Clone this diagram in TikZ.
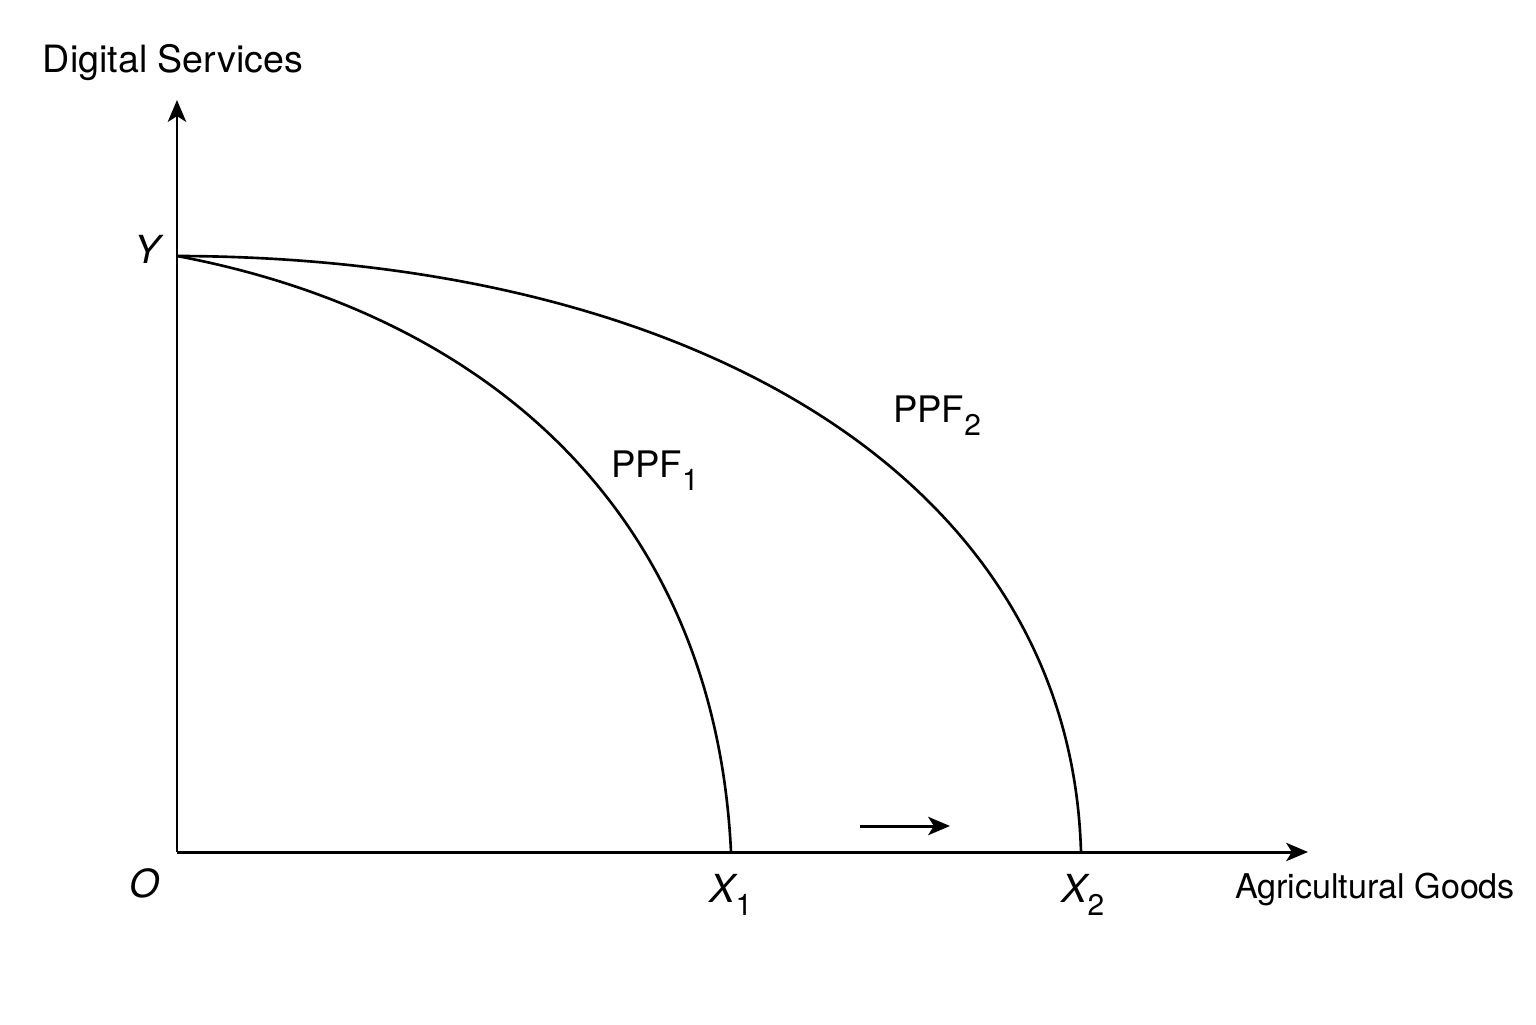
\documentclass[tikz,border=0pt]{standalone}
\usepackage{fontspec}
\setmainfont{TeX Gyre Heros}
\usetikzlibrary{arrows.meta}

\newcommand{\lowsub}[1]{\raisebox{-3.8pt}{\fontsize{8.5}{9}\selectfont #1}}

\begin{document}
\begin{tikzpicture}[
        axis/.style={draw, line width=0.85pt, -{Stealth[length=6.2pt, width=5.2pt, inset=1.6pt]}},
        curve/.style={draw, line width=0.75pt},
        shift arrow/.style={draw, line width=0.85pt, -{Stealth[length=6.2pt, width=5.2pt, inset=1.6pt]}},
        axis_title/.style={anchor=base, font=\fontsize{10.7}{12}\selectfont},
        point_lbl/.style={anchor=base, font=\fontsize{11}{13}\selectfont\itshape},
        ppf_lbl/.style={anchor=base, font=\fontsize{10.4}{12}\selectfont}
    ]
	\useasboundingbox (0,0) rectangle (15.36,10.24);
	\coordinate (o) at (1.77,1.72);
	\coordinate (y_top) at (1.77,9.24);
	\coordinate (x_end) at (13.08,1.72);
	\coordinate (y_0) at (1.77,7.68);
	\coordinate (x_1) at (7.31,1.72);
	\coordinate (x_2) at (10.81,1.72);
	\coordinate (shift_a) at (8.60,1.98);
	\coordinate (shift_b) at (9.50,1.98);
	\draw[axis] (o) -- (y_top);
	\draw[axis] (o) -- (x_end);
	\draw[curve] (y_0) .. controls (4.90,7.09) and (7.15,5.09) .. (x_1);
	\draw[curve] (y_0) .. controls (6.80,7.67) and (10.70,5.54) .. (x_2);
	\draw[shift arrow] (shift_a) -- (shift_b);
	\node[axis_title] (t_y) at (1.73,9.51) {Digital Services};
	\node[axis_title, font=\fontsize{9.7}{11}\selectfont] (t_x) at (13.75,1.26) {Agricultural Goods};
	\node[point_lbl] (l_y) at (1.47,7.61) {Y};
	\node[point_lbl] (l_o) at (1.45,1.27) {O};
	\node[point_lbl] (l_x1) at (7.31,1.22) {X\upshape\lowsub{1}};
	\node[point_lbl] (l_x2) at (10.83,1.22) {X\upshape\lowsub{2}};
	\node[ppf_lbl] (l_ppf1) at (6.55,5.47) {PPF\lowsub{1}};
	\node[ppf_lbl] (l_ppf2) at (9.37,6.02) {PPF\lowsub{2}};
\end{tikzpicture}
\end{document}
